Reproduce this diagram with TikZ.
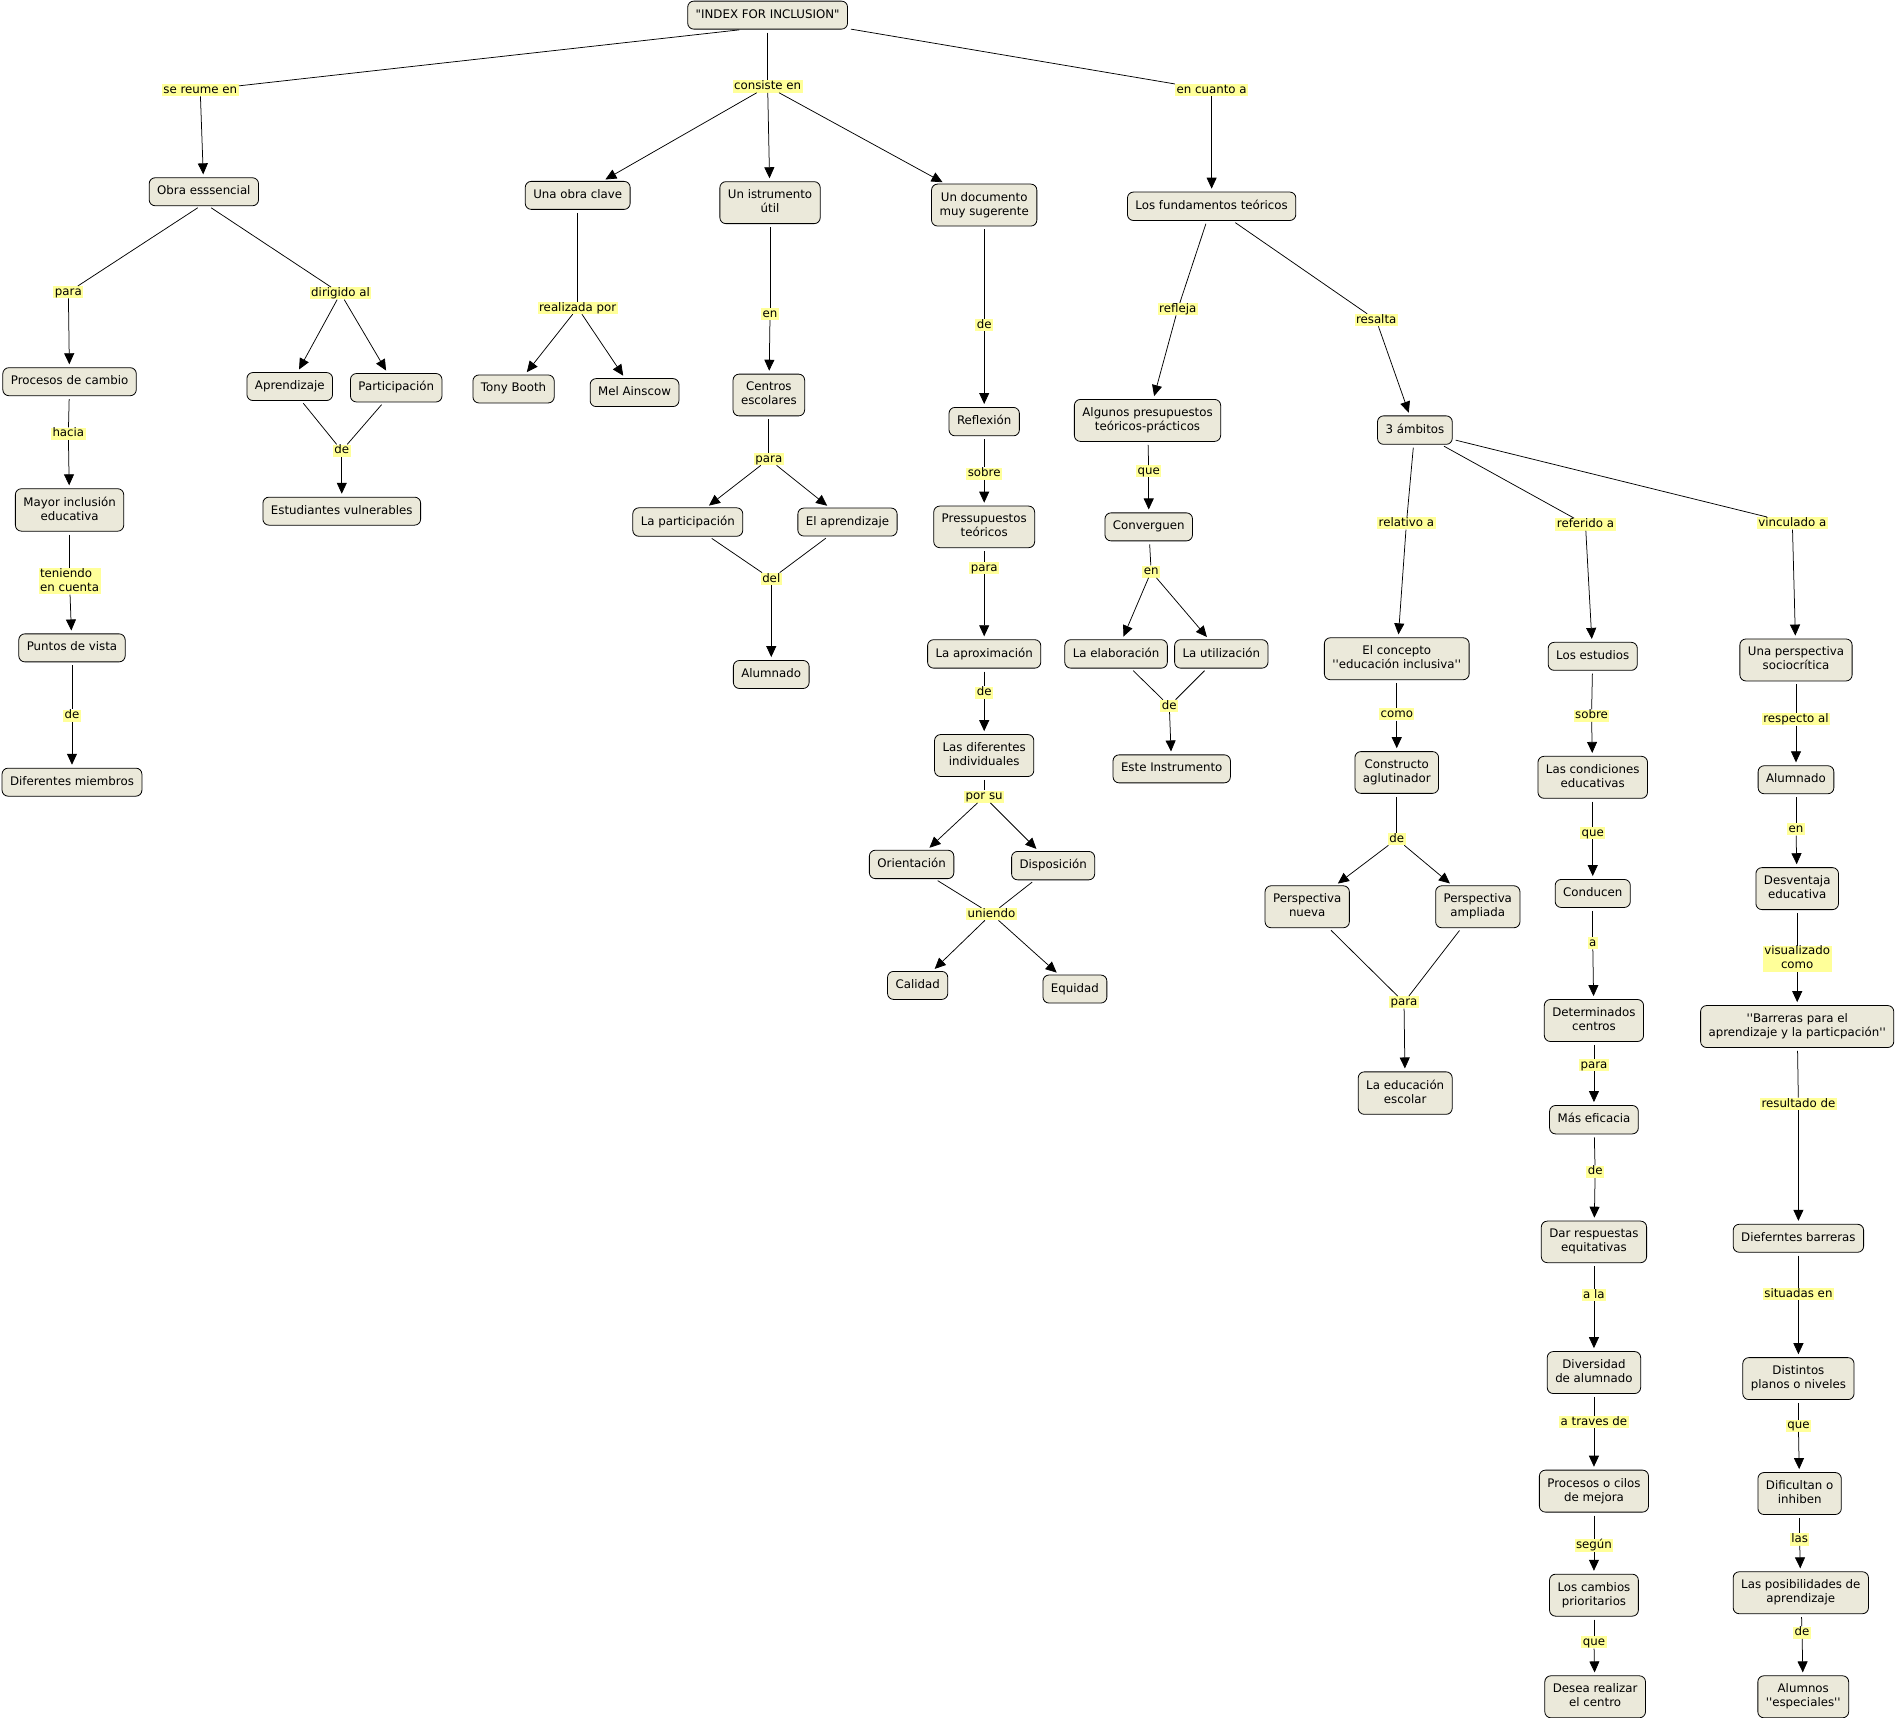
\documentclass[tikz,border=0pt]{standalone}
\usepackage{fontspec}
\setmainfont{DejaVu Sans}[Ligatures=TeXOff]
\usetikzlibrary{arrows.meta,calc}
\definecolor{cmfill}{RGB}{235,233,218}
\definecolor{lblfill}{RGB}{255,255,153}
\newcommand\cmstrutA{\rule[-3pt]{0pt}{12pt}}
\newcommand\lbstrutA{\rule[-2.6pt]{0pt}{11.4pt}}
\begin{document}
\begin{tikzpicture}[x=1.2098pt,y=-1.2098pt,
  cnc/.style={draw=black,line width=0.8pt,rounded corners=6pt,fill=cmfill,inner xsep=8pt,inner ysep=8pt,align=center,font=\fontsize{11.8}{14}\selectfont,execute at begin node=\cmstrutA,execute at end node=\cmstrutA},
  lbl/.style={fill=lblfill,inner xsep=1.5pt,inner ysep=0.3pt,align=center,font=\fontsize{11.8}{14}\selectfont,execute at begin node=\lbstrutA,execute at end node=\lbstrutA},
  cline/.style={line width=0.75pt,shorten <=3pt},
  carrow/.style={line width=0.75pt,shorten >=3pt,-{Triangle[width=10pt,length=11pt]}}]
\useasboundingbox (0,0) rectangle (1568,1420);
\begin{scope}[shift={(0.5,1.5)}]
% concepts
\node[cnc] (root) at (634,11) {"INDEX FOR INCLUSION"};
\node[cnc] (obra) at (168,157) {Obra esssencial};
\node[cnc] (clave) at (477,160) {Una obra clave};
\node[cnc] (istr) at (636,166) {Un istrumento\\útil};
\node[cnc] (docu) at (813,168) {Un documento\\muy sugerente};
\node[cnc] (fund) at (1001,169) {Los fundamentos teóricos};
\node[cnc] (proc) at (57,314) {Procesos de cambio};
\node[cnc] (apre) at (239,318) {Aprendizaje};
\node[cnc] (part) at (327,319) {Participación};
\node[cnc] (tony) at (424,320) {Tony Booth};
\node[cnc] (mel) at (524,323) {Mel Ainscow};
\node[cnc] (centros) at (635,325) {Centros\\escolares};
\node[cnc] (refl) at (813,347) {Reflexión};
\node[cnc] (algunos) at (948,346) {Algunos presupuestos\\teóricos-prácticos};
\node[cnc] (amb) at (1169,354) {3 ámbitos};
\node[cnc] (mayor) at (57,420) {Mayor inclusión\\educativa};
\node[cnc] (estud) at (282,421) {Estudiantes vulnerables};
\node[cnc] (lapart) at (568,430) {La participación};
\node[cnc] (elapr) at (700,430) {El aprendizaje};
\node[cnc] (press) at (813,434) {Pressupuestos\\teóricos};
\node[cnc] (conv) at (949,434) {Converguen};
\node[cnc] (puntos) at (59,534) {Puntos de vista};
\node[cnc] (alum) at (637,556) {Alumnado};
\node[cnc] (aprox) at (813,539) {La aproximación};
\node[cnc] (elab) at (922,539) {La elaboración};
\node[cnc] (util) at (1009,539) {La utilización};
\node[cnc] (concepto) at (1154,543) {El concepto\\''educación inclusiva''};
\node[cnc] (estudios) at (1316,541) {Los estudios};
\node[cnc] (socio) at (1484,544) {Una perspectiva\\sociocrítica};
\node[cnc] (difm) at (59,645) {Diferentes miembros};
\node[cnc] (difi) at (813,623) {Las diferentes\\individuales};
\node[cnc] (este) at (968,634) {Este Instrumento};
\node[cnc] (constr) at (1154,637) {Constructo\\aglutinador};
\node[cnc] (cond) at (1316,641) {Las condiciones\\educativas};
\node[cnc] (alumb) at (1484,643) {Alumnado};
\node[cnc] (orient) at (753,713) {Orientación};
\node[cnc] (disp) at (870,714) {Disposición};
\node[cnc] (pnueva) at (1080,748) {Perspectiva\\nueva};
\node[cnc] (pampl) at (1221,748) {Perspectiva\\ampliada};
\node[cnc] (conducen) at (1316,737) {Conducen};
\node[cnc] (desv) at (1485,733) {Desventaja\\educativa};
\node[cnc] (calidad) at (758,813) {Calidad};
\node[cnc] (equidad) at (888,816) {Equidad};
\node[cnc] (determ) at (1317,842) {Determinados\\centros};
\node[cnc] (barreras) at (1485,847) {''Barreras para el\\aprendizaje y la particpación''};
\node[cnc] (educ) at (1161,902) {La educación\\escolar};
\node[cnc] (mas) at (1317,924) {Más eficacia};
\node[cnc] (dar) at (1317,1025) {Dar respuestas\\equitativas};
\node[cnc] (dief) at (1486,1022) {Dieferntes barreras};
\node[cnc] (divers) at (1317,1133) {Diversidad\\de alumnado};
\node[cnc] (dist) at (1486,1138) {Distintos\\planos o niveles};
\node[cnc] (pciclos) at (1317,1231) {Procesos o cilos\\de mejora};
\node[cnc] (dific) at (1487,1233) {Dificultan o\\inhiben};
\node[cnc] (cambios) at (1317,1317) {Los cambios\\prioritarios};
\node[cnc] (posib) at (1488,1315) {Las posibilidades de\\aprendizaje};
\node[cnc] (desea) at (1318,1401) {Desea realizar\\el centro};
\node[cnc] (alesp) at (1490,1401) {Alumnos\\''especiales''};
% linking phrases
\node[lbl] (l1) at (165,73) {se reume en};
\node[lbl] (l2) at (634,70) {consiste en};
\node[lbl] (l3) at (1001,73) {en cuanto a};
\node[lbl] (l4) at (56,240) {para};
\node[lbl] (l5) at (281,241) {dirigido al};
\node[lbl] (l6) at (477,253) {realizada por};
\node[lbl] (l7) at (636,258) {en};
\node[lbl] (l8) at (813,267) {de};
\node[lbl] (l9) at (973,254) {refleja};
\node[lbl] (l10) at (1137,263) {resalta};
\node[lbl] (l11) at (56,357) {hacia};
\node[lbl] (l12) at (282,371) {de};
\node[lbl] (l13) at (635,378) {para};
\node[lbl] (l14) at (813,390) {sobre};
\node[lbl] (l15) at (949,388) {que};
\node[lbl] (l16) at (1162,431) {relativo a};
\node[lbl] (l17) at (1310,432) {referido a};
\node[lbl] (l18) at (1481,431) {vinculado a};
\node[lbl,align=left] (l19) at (57,479) {teniendo\\en cuenta};
\node[lbl] (l20) at (637,477) {del};
\node[lbl] (l21) at (813,468) {para};
\node[lbl] (l22) at (951,471) {en};
\node[lbl] (l23) at (59,590) {de};
\node[lbl] (l24) at (813,571) {de};
\node[lbl] (l25) at (966,582) {de};
\node[lbl] (l26) at (1154,589) {como};
\node[lbl] (l27) at (1315,590) {sobre};
\node[lbl] (l28) at (1484,593) {respecto al};
\node[lbl] (l29) at (813,657) {por su};
\node[lbl] (l30) at (1154,692) {de};
\node[lbl] (l31) at (1316,687) {que};
\node[lbl] (l32) at (1484,684) {en};
\node[lbl] (l33) at (819,754) {uniendo};
\node[lbl] (l34) at (1316,778) {a};
\node[lbl] (l35) at (1485,791) {visualizado\\como};
\node[lbl] (l36) at (1160,827) {para};
\node[lbl] (l37) at (1317,879) {para};
\node[lbl] (l38) at (1486,911) {resultado de};
\node[lbl] (l39) at (1318,967) {de};
\node[lbl] (l40) at (1317,1069) {a la};
\node[lbl] (l41) at (1486,1068) {situadas en};
\node[lbl] (l42) at (1317,1174) {a traves de};
\node[lbl] (l43) at (1486,1177) {que};
\node[lbl] (l44) at (1317,1276) {según};
\node[lbl] (l45) at (1487,1271) {las};
\node[lbl] (l46) at (1317,1356) {que};
\node[lbl] (l47) at (1489,1348) {de};
% concept -> phrase lines
\draw[cline] ($(root.south)+(-21,0)$) -- (l1);
\draw[cline] ($(obra.south)+(-3,0)$) -- (l4);
\draw[cline] ($(obra.south)+(4,0)$) -- (l5);
\foreach \a/\b in {root/l2,root/l3,clave/l6,istr/l7,docu/l8,fund/l9,fund/l10,
  proc/l11,apre/l12,part/l12,centros/l13,refl/l14,algunos/l15,amb/l16,amb/l17,amb/l18,
  mayor/l19,lapart/l20,elapr/l20,press/l21,conv/l22,puntos/l23,aprox/l24,elab/l25,util/l25,
  concepto/l26,estudios/l27,socio/l28,difi/l29,constr/l30,cond/l31,alumb/l32,
  orient/l33,disp/l33,conducen/l34,desv/l35,pnueva/l36,pampl/l36,determ/l37,barreras/l38,
  mas/l39,dar/l40,dief/l41,divers/l42,dist/l43,pciclos/l44,dific/l45,cambios/l46,posib/l47}
  \draw[cline] (\a) -- (\b);
% phrase -> concept arrows
\foreach \a/\b in {l1/obra,l2/clave,l2/istr,l2/docu,l3/fund,l4/proc,l5/apre,l5/part,
  l6/tony,l6/mel,l7/centros,l8/refl,l9/algunos,l10/amb,l11/mayor,l12/estud,
  l13/lapart,l13/elapr,l14/press,l15/conv,l16/concepto,l17/estudios,l18/socio,
  l19/puntos,l20/alum,l21/aprox,l22/elab,l22/util,l23/difm,l24/difi,l25/este,
  l26/constr,l27/cond,l28/alumb,l29/orient,l29/disp,l30/pnueva,l30/pampl,l31/conducen,
  l32/desv,l33/calidad,l33/equidad,l34/determ,l35/barreras,l36/educ,l37/mas,l38/dief,
  l39/dar,l40/divers,l41/dist,l42/pciclos,l43/dific,l44/cambios,l45/posib,l46/desea,l47/alesp}
  \draw[carrow] (\a) -- (\b);
\end{scope}
\end{tikzpicture}
\end{document}
